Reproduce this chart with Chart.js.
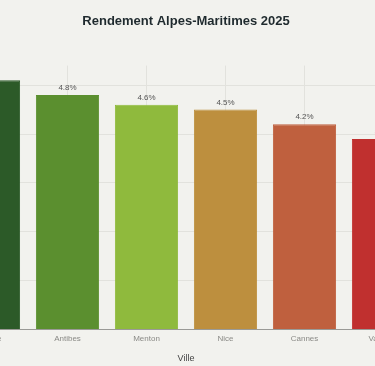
<!DOCTYPE html>
<html>
<head>
<meta charset="utf-8">
<script src="https://cdn.jsdelivr.net/npm/chart.js@4.4.1/dist/chart.umd.min.js"></script>
<style>
  html, body { margin: 0; padding: 0; background: #f2f2ee; overflow: hidden; width: 375px; height: 366px; }
  #wrap { position: absolute; left: -51px; top: 0; width: 474px; height: 366px; }
</style>
</head>
<body>
<div id="wrap"><canvas id="c"></canvas></div>
<script>
const villes  = ['Grasse', 'Antibes', 'Menton', 'Nice', 'Cannes', 'Vallauris']
const rendement = [5.1, 4.8, 4.6, 4.5, 4.2, 3.9]
const couleurs  = ['#2c5a28', '#5b8f2f', '#8fba3d', '#bd8f3e', '#bf603e', '#c0302f']

Chart.defaults.font.family = "'Liberation Sans', Arial, sans-serif"

const GRID = '#e2e2dd'

// labels above each bar
const valueLabels = {
  id: 'valueLabels',
  afterDatasetsDraw(chart) {
    const { ctx } = chart
    const meta = chart.getDatasetMeta(0)
    ctx.save()
    ctx.font = "8px 'Liberation Sans', Arial, sans-serif"
    ctx.fillStyle = '#555555'
    ctx.textAlign = 'center'
    ctx.textBaseline = 'bottom'
    meta.data.forEach((bar, i) => {
      ctx.fillText(rendement[i].toFixed(1) + '%', bar.x, bar.y - 3)
    })
    ctx.restore()
  }
}

new Chart(document.getElementById('c'), {
  type: 'bar',
  data: {
    labels: villes,
    datasets: [{
      data: rendement,
      backgroundColor: couleurs,
      borderColor: couleurs,
      borderWidth: 1,
      barPercentage: 0.8,
      categoryPercentage: 1,
    }]
  },
  options: {
    responsive: true,
    maintainAspectRatio: false,
    animation: false,
    layout: { padding: { left: 0, right: 0, top: 0, bottom: 0 } },
    plugins: {
      legend: { display: false },
      tooltip: { enabled: false },
      title: {
        display: true,
        text: 'Rendement Alpes-Maritimes 2025',
        color: '#1f2a2e',
        font: { size: 13, weight: 'bold' },
        padding: { top: 14, bottom: 36 },
      },
    },
    scales: {
      x: {
        grid: { color: GRID, offset: false, drawTicks: false },
        border: { display: true, color: '#9a9a96' },
        ticks: { color: '#8a8a86', font: { size: 8 }, padding: 4 },
        title: { display: true, text: 'Ville', color: '#444444', font: { size: 9 }, padding: { top: 6, bottom: 2 } },
      },
      y: {
        min: 0,
        max: 5.4,
        ticks: { display: false, stepSize: 1 },
        grid: {
          drawTicks: false,
          color: c => (c.tick && Number.isInteger(c.tick.value) && c.tick.value > 0) ? GRID : 'transparent',
        },
        border: { display: false },
      },
    },
  },
  plugins: [valueLabels],
})
</script>
</body>
</html>
